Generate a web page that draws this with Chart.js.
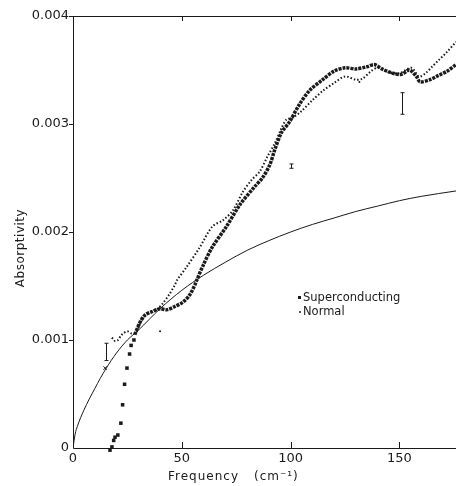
<!DOCTYPE html>
<html>
<head>
<meta charset="utf-8">
<script src="https://cdn.jsdelivr.net/npm/chart.js@4"></script>
<style>
  html, body { margin: 0; padding: 0; background: #fff; }
  #wrap { width: 456px; height: 486px; }
</style>
</head>
<body>
<div id="wrap"><canvas id="chartContainer" width="456" height="486"></canvas></div>
<script>
// values (frequency in cm^-1, absorptivity)
var xTicks = [0, 50, 100, 150];
var yTicks = [0, 0.001, 0.002, 0.003, 0.004];

// superconducting: separate points at low frequency
var scLowX = [17, 17.9, 18.7, 19.3, 20.6, 22.0, 22.8, 23.7, 24.8, 26.0, 26.7, 28.0];
var scLowY = [-0.00002, 0.00001, 0.00007, 0.0001, 0.00012, 0.00023, 0.0004, 0.00059, 0.00074, 0.00087, 0.00095, 0.001];

// superconducting: dense trace
var scX = [28.4, 30.7, 33, 36, 40, 43, 46.8, 50.5, 53.7, 56, 57, 60, 64, 70.5, 76.6, 83.5, 87, 90.4, 92.7, 95.8, 99.5,
           104, 108.7, 114.7, 120, 125, 130, 135, 138.5, 142, 147, 151, 154.6, 157.8, 159.5, 164, 168, 172, 176];
var scY = [0.00105, 0.00116, 0.00123, 0.00126, 0.00129, 0.00128, 0.00131, 0.00135, 0.00142, 0.00151, 0.00156, 0.0017, 0.00186, 0.00205, 0.00225, 0.00242, 0.0025, 0.00262, 0.00276, 0.00292, 0.00302,
           0.00318, 0.00331, 0.00341, 0.00349, 0.00352, 0.00351, 0.00353, 0.00355, 0.00351, 0.00347, 0.00346, 0.0035, 0.00344, 0.00339, 0.00341, 0.00345, 0.00349, 0.00355];

// normal
var nX = [17.8, 18.5, 19.3, 20.7, 22, 23, 25, 27, 29, 31, 33, 36, 39, 41.3, 44.5, 46.8, 48, 52, 58, 64, 69, 73.5, 78, 82, 85.8, 89.4, 92.7, 95.8, 98,
          101, 105, 110, 115, 120, 125, 130, 133, 137, 140, 145, 150, 155.5, 159, 162, 165, 168, 171.5, 176];
var nY = [0.00102, 0.00101, 0.00099, 0.001, 0.00104, 0.00106, 0.00108, 0.00106, 0.00107, 0.00116, 0.00122, 0.00126, 0.00129, 0.00134, 0.00143, 0.00151, 0.00156, 0.00167, 0.00185, 0.00205, 0.00211, 0.0022, 0.00237, 0.00248, 0.00256, 0.0027, 0.00282, 0.00296, 0.00304,
          0.00306, 0.00312, 0.00322, 0.00331, 0.00338, 0.00344, 0.00341, 0.00342, 0.00349, 0.00352, 0.00348, 0.00347, 0.00352, 0.00344, 0.00347, 0.00353, 0.00359, 0.00366, 0.00376];

// smooth theoretical curve
var thX = [0, 1, 2, 5, 10, 15, 20, 25, 30, 40, 50, 60, 70, 80, 90, 100, 110, 120, 130, 140, 150, 160, 176];
var thY = [0, 0.00013, 0.0002, 0.00035, 0.00055, 0.00073, 0.00088, 0.001, 0.00109, 0.00129, 0.00146, 0.0016, 0.00172, 0.00183, 0.00192, 0.002, 0.00207, 0.00213, 0.00219, 0.00224, 0.00229, 0.00233, 0.00238];

// stray marks on the plot
var strayX = [40, 131.6];
var strayY = [0.00108, 0.00339];
var crossX = [14.8];
var crossY = [0.00074];

// error bars [x, low, high]
var errX = [15.1, 100.4, 151];
var errLo = [0.00081, 0.00259, 0.00309];
var errHi = [0.00097, 0.00263, 0.00329];

var ink = '#1a1a1a';
var fontFamily = '"DejaVu Sans", "Liberation Sans", sans-serif';

function pts(xs, ys) {
    return xs.map(function (x, i) { return { x: x, y: ys[i] }; });
}

// axis frame, inward/outward ticks, error bars, titles and legend
var decor = {
    id: 'decor',
    afterDatasetsDraw: function (chart) {
        var ctx = chart.ctx, a = chart.chartArea;
        var xs = chart.scales.x, ys = chart.scales.y;
        ctx.save();
        ctx.strokeStyle = ink;
        ctx.lineWidth = 1;
        ctx.beginPath();
        ctx.moveTo(a.left + 0.5, a.top + 0.5);
        ctx.lineTo(a.right, a.top + 0.5);
        ctx.moveTo(a.left + 0.5, a.top);
        ctx.lineTo(a.left + 0.5, a.bottom + 0.5);
        ctx.lineTo(a.right, a.bottom + 0.5);
        xTicks.forEach(function (v) {
            if (v === 0) return;
            var px = Math.round(xs.getPixelForValue(v)) + 0.5;
            ctx.moveTo(px, a.bottom);
            ctx.lineTo(px, a.bottom - 6);
            ctx.moveTo(px, a.top);
            ctx.lineTo(px, a.top + 5);
        });
        yTicks.forEach(function (v) {
            if (v === 0) return;
            var py = Math.round(ys.getPixelForValue(v)) + 0.5;
            ctx.moveTo(a.left, py);
            ctx.lineTo(a.left - 4, py);
        });
        // error bars
        errX.forEach(function (x, i) {
            var px = Math.round(xs.getPixelForValue(x)) + 0.5;
            var p1 = ys.getPixelForValue(errLo[i]), p2 = ys.getPixelForValue(errHi[i]);
            ctx.moveTo(px, p1); ctx.lineTo(px, p2);
            ctx.moveTo(px - 2, p1); ctx.lineTo(px + 2, p1);
            ctx.moveTo(px - 2, p2); ctx.lineTo(px + 2, p2);
        });
        ctx.stroke();

        // titles
        ctx.fillStyle = ink;
        ctx.font = '12px ' + fontFamily;
        ctx.letterSpacing = '1px';
        ctx.textAlign = 'left';
        ctx.textBaseline = 'middle';
        ctx.fillText('Frequency', 168, 477);
        ctx.fillText('(cm\u207B\u00B9)', 254, 477);
        ctx.save();
        ctx.translate(21, 248);
        ctx.rotate(-Math.PI / 2);
        ctx.textAlign = 'center';
        ctx.letterSpacing = '0.5px';
        ctx.fillText('Absorptivity', 0, 0);
        ctx.restore();

        // legend
        ctx.letterSpacing = '0px';
        ctx.font = '11.5px ' + fontFamily;
        ctx.fillRect(298, 296, 3, 3);
        ctx.fillText('Superconducting', 303, 298);
        ctx.beginPath();
        ctx.arc(300, 312, 1, 0, Math.PI * 2);
        ctx.fill();
        ctx.fillText('Normal', 303, 312);
        ctx.restore();
    }
};

var ctx = document.getElementById('chartContainer').getContext('2d');
var myChart = new Chart(ctx, {
    type: 'scatter',
    data: {
        datasets: [{
            label: 'Theory',
            data: pts(thX, thY),
            showLine: true,
            borderColor: ink,
            borderWidth: 1,
            pointRadius: 0,
            cubicInterpolationMode: 'monotone'
        }, {
            label: 'Normal',
            data: pts(nX, nY),
            showLine: true,
            borderColor: ink,
            borderWidth: 2,
            borderDash: [1.5, 2],
            pointRadius: 0,
            tension: 0.3
        }, {
            label: 'Superconducting',
            data: pts(scX, scY),
            showLine: true,
            borderColor: ink,
            borderWidth: 3.5,
            borderDash: [3, 1],
            pointRadius: 0,
            tension: 0.3
        }, {
            label: 'Superconducting low',
            data: pts(scLowX, scLowY),
            pointStyle: 'rect',
            pointRadius: 2.5,
            backgroundColor: ink,
            borderColor: ink,
            borderWidth: 0,
            clip: false
        }, {
            label: 'stray',
            data: pts(strayX, strayY),
            pointRadius: 1,
            backgroundColor: ink,
            borderWidth: 0
        }, {
            label: 'cross',
            data: pts(crossX, crossY),
            pointStyle: 'crossRot',
            pointRadius: 2.5,
            borderColor: ink,
            borderWidth: 1
        }]
    },
    options: {
        responsive: false,
        animation: false,
        layout: { autoPadding: false, padding: { top: 16, right: 0, left: 0, bottom: 0 } },
        plugins: { legend: { display: false }, tooltip: { enabled: false } },
        scales: {
            x: {
                type: 'linear',
                min: 0,
                max: 176,
                afterBuildTicks: function (s) { s.ticks = xTicks.map(function (v) { return { value: v }; }); },
                afterFit: function (s) { s.height = 38; s.paddingLeft = 0; s.paddingRight = 0; },
                grid: { display: false, drawTicks: false },
                border: { display: false },
                ticks: {
                    color: ink,
                    padding: 3,
                    maxRotation: 0,
                    font: { family: fontFamily, size: 13 },
                    callback: function (v) { return String(v); }
                }
            },
            y: {
                min: 0,
                max: 0.004,
                afterBuildTicks: function (s) { s.ticks = yTicks.map(function (v) { return { value: v }; }); },
                afterFit: function (s) { s.width = 73; s.paddingTop = 0; s.paddingBottom = 0; },
                grid: { display: false, drawTicks: false },
                border: { display: false },
                ticks: {
                    color: ink,
                    padding: 4,
                    font: { family: fontFamily, size: 13 },
                    callback: function (v) { return v === 0 ? '0' : v.toFixed(3); }
                }
            }
        }
    },
    plugins: [decor]
});
</script>
</body>
</html>
